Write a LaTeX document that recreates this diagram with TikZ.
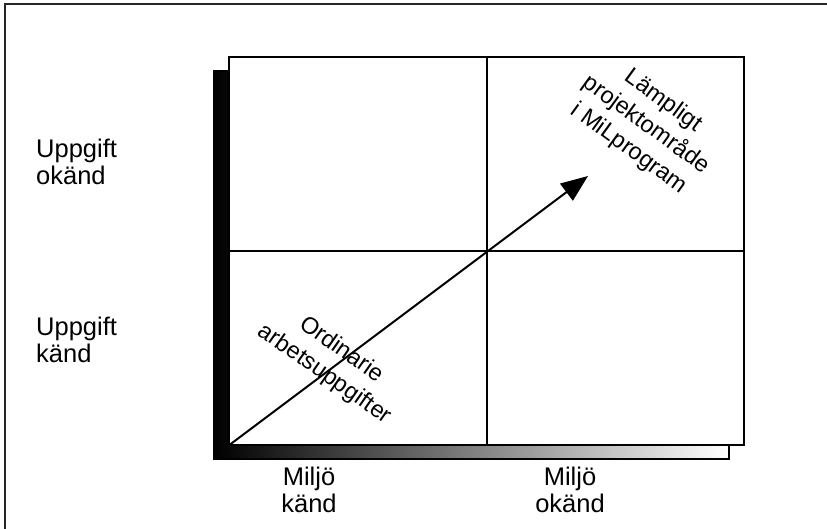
\documentclass[tikz,border=0pt]{standalone}
\usepackage{fontspec}
\setmainfont{Liberation Sans}
\usetikzlibrary{arrows.meta}

\begin{document}
\begin{tikzpicture}[x=1pt, y=-1pt, font=\fontsize{25.5}{27}\selectfont,
    field/.style={minimum width=515, minimum height=388, inner sep=0pt, line width=2pt},
    label/.style={inner sep=0pt, align=left},
    tilted/.style={inner sep=0pt, align=center, rotate=-36, font=\fontsize{23.5}{29.5}\selectfont}]
        \useasboundingbox (0,0) rectangle (827,529);

        % Draw outer frame
        \draw[line width=2pt, black!85] (4.5,529) -- (4.5,4.5) -- (827,4.5);

        % Draw shadow and field
        \node[field, draw, left color=black, right color=white] (shadow) at (471.5,265) {};
        \node[field, draw, fill=white] (box) at (486.5,251) {};
        \draw[line width=2pt] (box.north) -- (box.south);
        \draw[line width=2pt] (box.west) -- (box.east);

        % Draw arrow
        \coordinate (tip) at (588,176);
        \draw[line width=2pt, -{Triangle[length=27pt, width=21pt]}] (box.south west) -- (tip);

        % Axis labels
        \node[label, anchor=base west] (okand) at (36,185) {Uppgift\\okänd};
        \node[label, anchor=base west] (kand) at (36,362) {Uppgift\\känd};
        \node[label, align=center, anchor=base] (mkand) at (309,512) {Miljö\\känd};
        \node[label, align=center, anchor=base] (mokand) at (570,512) {Miljö\\okänd};

        % Quadrant texts
        \node[tilted, rotate=1] (ordinarie) at (333,362) {Ordinarie\\arbetsuppgifter};
        \node[tilted] (lampligt) at (646,125) {Lämpligt\\projektområde\\i MiLprogram};
    \end{tikzpicture}
\end{document}
